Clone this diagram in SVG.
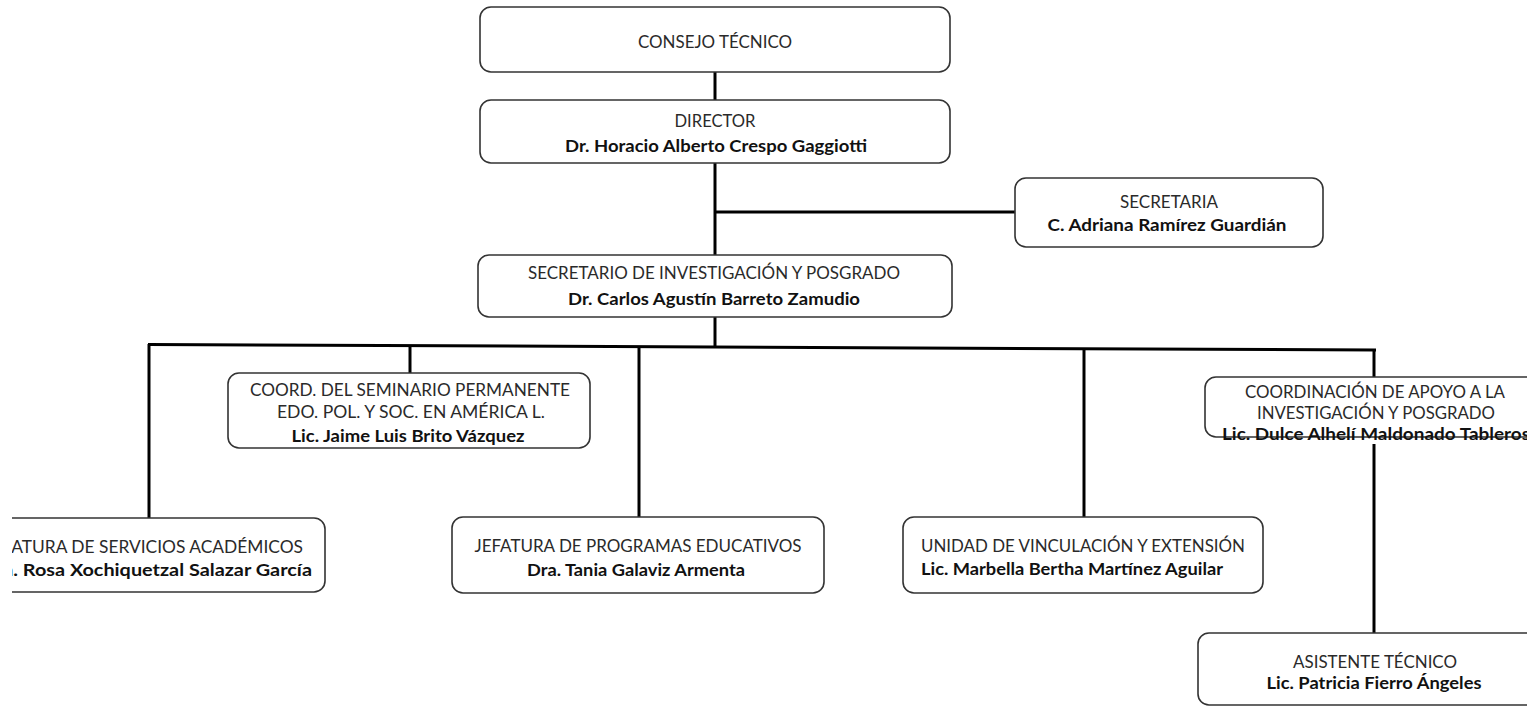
<svg xmlns="http://www.w3.org/2000/svg" width="1527" height="706" viewBox="0 0 1527 706">
<style>
.box{fill:#fff;stroke:#333;stroke-width:1.6}
.t{font-family:Lato,"Liberation Sans",sans-serif;font-size:17px;fill:#2a2a2a;text-anchor:middle}
.b{font-weight:bold;fill:#111}
.c{stroke:#000;stroke-width:3;fill:none}
</style>
<defs>
<clipPath id="clipL"><rect x="12" y="0" width="1515" height="706"/></clipPath>
</defs>
<rect width="1527" height="706" fill="#fff"/>
<g id="connectors">
<line class="c" x1="715" y1="72" x2="715" y2="100"/>
<line class="c" x1="715" y1="163" x2="715" y2="255"/>
<line class="c" x1="715" y1="212" x2="1015" y2="212"/>
<line class="c" x1="715" y1="317" x2="715" y2="346"/>
<line class="c" x1="148" y1="344.5" x2="1376" y2="350"/>
<line class="c" x1="149" y1="344" x2="149" y2="518"/>
<line class="c" x1="410" y1="345" x2="410" y2="373"/>
<line class="c" x1="639" y1="346" x2="639" y2="517"/>
<line class="c" x1="1084" y1="348" x2="1084" y2="517"/>
<line class="c" x1="1374" y1="349" x2="1374" y2="377"/>
<line class="c" x1="1374" y1="444" x2="1374" y2="633"/>
</g>
<g id="consejo">
<rect class="box" x="480" y="7" width="470" height="65" rx="11"/>
<text class="t" x="715" y="47.5" textLength="154" lengthAdjust="spacingAndGlyphs">CONSEJO TÉCNICO</text>
</g>
<g id="director">
<rect class="box" x="480" y="100" width="470" height="63" rx="11"/>
<text class="t" x="715" y="126.5" textLength="81" lengthAdjust="spacingAndGlyphs">DIRECTOR</text>
<text class="t b" x="716" y="151.5" textLength="302" lengthAdjust="spacingAndGlyphs">Dr. Horacio Alberto Crespo Gaggiotti</text>
</g>
<g id="secretaria">
<rect class="box" x="1015" y="178" width="308" height="69" rx="11"/>
<text class="t" x="1169" y="207.5" textLength="98" lengthAdjust="spacingAndGlyphs">SECRETARIA</text>
<text class="t b" x="1167" y="230.5" textLength="239" lengthAdjust="spacingAndGlyphs">C. Adriana Ramírez Guardián</text>
</g>
<g id="secretario">
<rect class="box" x="478" y="255" width="474" height="62" rx="11"/>
<text class="t" x="714" y="278.5" textLength="372" lengthAdjust="spacingAndGlyphs">SECRETARIO DE INVESTIGACIÓN Y POSGRADO</text>
<text class="t b" x="714" y="305" textLength="292" lengthAdjust="spacingAndGlyphs">Dr. Carlos Agustín Barreto Zamudio</text>
</g>
<g id="coord-seminario">
<rect class="box" x="228" y="373" width="362" height="75" rx="11"/>
<text class="t" x="410" y="395.5" textLength="320" lengthAdjust="spacingAndGlyphs">COORD. DEL SEMINARIO PERMANENTE</text>
<text class="t" x="411" y="417.5" textLength="268" lengthAdjust="spacingAndGlyphs">EDO. POL. Y SOC. EN AMÉRICA L.</text>
<text class="t b" x="408" y="442" textLength="233" lengthAdjust="spacingAndGlyphs">Lic. Jaime Luis Brito Vázquez</text>
</g>
<g id="jefatura-servicios" clip-path="url(#clipL)">
<rect class="box" x="-30" y="518" width="355" height="74" rx="11"/>
<text class="t" x="144" y="552.5" textLength="318" lengthAdjust="spacingAndGlyphs">JEFATURA DE SERVICIOS ACADÉMICOS</text>
<text class="t b" x="146.5" y="575.5" textLength="331" lengthAdjust="spacingAndGlyphs">Dra. Rosa Xochiquetzal Salazar García</text>
</g>
<g id="jefatura-programas">
<rect class="box" x="452" y="517" width="372" height="76" rx="11"/>
<text class="t" x="638" y="551.5" textLength="327" lengthAdjust="spacingAndGlyphs">JEFATURA DE PROGRAMAS EDUCATIVOS</text>
<text class="t b" x="636" y="576" textLength="218" lengthAdjust="spacingAndGlyphs">Dra. Tania Galaviz Armenta</text>
</g>
<g id="unidad">
<rect class="box" x="903" y="517" width="360" height="76" rx="11"/>
<text class="t" x="921" y="551.5" style="text-anchor:start" textLength="324" lengthAdjust="spacingAndGlyphs">UNIDAD DE VINCULACIÓN Y EXTENSIÓN</text>
<text class="t b" x="921" y="575" style="text-anchor:start" textLength="302" lengthAdjust="spacingAndGlyphs">Lic. Marbella Bertha Martínez Aguilar</text>
</g>
<g id="coord-apoyo">
<rect class="box" x="1205" y="377" width="360" height="60" rx="11"/>
<text class="t" x="1375" y="397.5" textLength="260" lengthAdjust="spacingAndGlyphs">COORDINACIÓN DE APOYO A LA</text>
<text class="t" x="1376" y="419" textLength="238" lengthAdjust="spacingAndGlyphs">INVESTIGACIÓN Y POSGRADO</text>
<text class="t b" x="1376" y="440" textLength="308" lengthAdjust="spacingAndGlyphs">Lic. Dulce Alhelí Maldonado Tableros</text>
</g>
<g id="asistente">
<rect class="box" x="1198" y="633" width="360" height="72" rx="11"/>
<text class="t" x="1375" y="667.5" textLength="164" lengthAdjust="spacingAndGlyphs">ASISTENTE TÉCNICO</text>
<text class="t b" x="1374" y="689" textLength="215" lengthAdjust="spacingAndGlyphs">Lic. Patricia Fierro Ángeles</text>
</g>
</svg>
